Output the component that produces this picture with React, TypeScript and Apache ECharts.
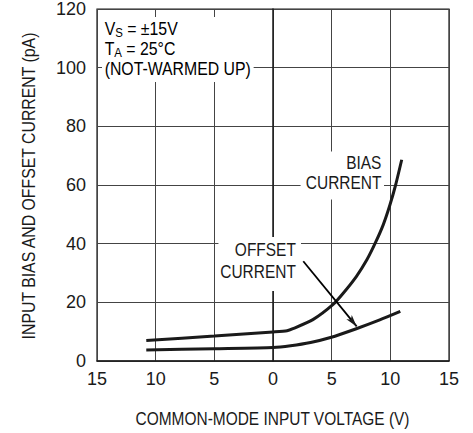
import React, { useEffect, useRef } from "react";
import * as echarts from "echarts";

const xTicks = [-15, -10, -5, 0, 5, 10, 15];
const yTicks = [0, 20, 40, 60, 80, 100, 120];

const biasX = [-10.8, -5, 0, 1.2, 1.7, 3.4, 5.1, 6.0, 7.1, 8.0, 8.75, 9.4, 9.95, 10.45, 10.97];
const biasY = [7.0, 8.5, 9.9, 10.3, 11.0, 14.1, 19.2, 23.2, 28.8, 34.5, 40.5, 46.5, 53.0, 60.0, 68.6];

const offsetX = [-10.8, -5, 0, 1.5, 3.2, 4.9, 7.1, 9.1, 10.85];
const offsetY = [3.75, 4.2, 4.6, 5.2, 6.3, 8.0, 11.0, 14.0, 16.9];

const arrowX = [2.58, 7.13];
const arrowY = [34.0, 11.8];

const xTitle = "COMMON-MODE INPUT VOLTAGE (V)";
const yTitle = "INPUT BIAS AND OFFSET CURRENT (pA)";

const FONT = '"Liberation Sans", Arial, sans-serif';
const INK = "#1a1a1a";
const SX = 0.86;

export default function App() {
  const ref = useRef<HTMLDivElement>(null);
  useEffect(() => {
    document.body.style.margin = "0";
    const chart = echarts.init(ref.current!, undefined, { renderer: "svg" });
    const zip = (xs: number[], ys: number[]) => xs.map((x, i) => [x, ys[i]]);
    const axisCommon = {
      type: "value" as const,
      axisLine: { show: true, lineStyle: { color: INK, width: 1.5 } },
      axisTick: { show: false },
      splitLine: { show: true, lineStyle: { color: "#444", width: 1 } },
    };
    const base = { fontFamily: FONT, fontSize: 18, fill: INK };
    chart.setOption({
      animation: false,
      backgroundColor: "#fff",
      grid: { left: 97, right: 24, top: 9, bottom: 72, show: true, borderColor: INK, borderWidth: 1.2 },
      xAxis: {
        ...axisCommon,
        min: xTicks[0],
        max: xTicks[xTicks.length - 1],
        interval: 5,
        axisLabel: {
          fontFamily: FONT, fontSize: 18, color: INK, margin: 9,
          formatter: (v: number) => String(Math.abs(v)),
        },
      },
      yAxis: {
        ...axisCommon,
        min: yTicks[0],
        max: yTicks[yTicks.length - 1],
        interval: 20,
        axisLabel: { fontFamily: FONT, fontSize: 18, color: INK, margin: 11 },
      },
      series: [
        {
          type: "line",
          name: "Bias",
          z: 3,
          data: zip(biasX, biasY),
          showSymbol: false,
          smooth: 0.2,
          lineStyle: { color: INK, width: 3 },
        },
        {
          type: "line",
          name: "Offset",
          z: 3,
          data: zip(offsetX, offsetY),
          showSymbol: false,
          smooth: 0.2,
          lineStyle: { color: INK, width: 3 },
        },
        {
          type: "line",
          name: "ArrowShaft",
          z: 4,
          silent: true,
          data: zip(arrowX, arrowY),
          showSymbol: false,
          lineStyle: { color: "#000", width: 1.8 },
        },
        {
          type: "custom",
          name: "ArrowHead",
          z: 5,
          silent: true,
          clip: false,
          data: [[arrowX[0], arrowY[0], arrowX[1], arrowY[1]]],
          encode: { x: [0, 2], y: [1, 3] },
          renderItem: (_params: any, api: any) => {
            const p1 = api.coord([api.value(0), api.value(1)]);
            const p2 = api.coord([api.value(2), api.value(3)]);
            const dx = p2[0] - p1[0];
            const dy = p2[1] - p1[1];
            const len = Math.sqrt(dx * dx + dy * dy);
            const ux = dx / len;
            const uy = dy / len;
            const hl = 12;
            const hw = 3.5;
            const bx = p2[0] - ux * hl;
            const by = p2[1] - uy * hl;
            const nx = -uy;
            const ny = ux;
            return {
              type: "polygon",
              shape: {
                points: [
                  [p2[0], p2[1]],
                  [bx + nx * hw, by + ny * hw],
                  [bx + ux * 3, by + uy * 3],
                  [bx - nx * hw, by - ny * hw],
                ],
              },
              style: { fill: INK },
            };
          },
        },
      ],
      graphic: [
        {
          type: "text",
          z: 1,
          x: 102,
          y: 17,
          scaleX: 0.88,
          style: {
            text: "{a|V}{s|S}{a| = ±15V}\n{a|T}{s|A}{a| = 25°C}\n{a|(NOT-WARMED UP)}",
            verticalAlign: "top",
            backgroundColor: "#fff",
            padding: [2, 3, 3, 3],
            rich: {
              a: { fontFamily: FONT, fontSize: 18, color: INK, lineHeight: 20 },
              s: { fontFamily: FONT, fontSize: 13, color: INK, lineHeight: 12, verticalAlign: "bottom" },
            },
          },
        },
        {
          type: "text",
          z: 1,
          x: 384,
          y: 151.5,
          scaleX: SX,
          style: {
            ...base,
            text: "BIAS\nCURRENT",
            align: "right",
            verticalAlign: "top",
            lineHeight: 20,
            backgroundColor: "#fff",
            padding: [2, 3, 6, 6],
          },
        },
        {
          type: "text",
          z: 1,
          x: 301,
          y: 237,
          scaleX: SX,
          style: {
            ...base,
            text: "OFFSET\nCURRENT",
            align: "right",
            verticalAlign: "top",
            lineHeight: 22,
            backgroundColor: "#fff",
            padding: [2, 6, 8, 2],
          },
        },
        {
          type: "text",
          x: 272.5,
          y: 419,
          scaleX: SX,
          style: { ...base, text: xTitle, align: "center", verticalAlign: "middle" },
        },
        {
          type: "text",
          x: 29,
          y: 186,
          rotation: Math.PI / 2,
          scaleX: 0.88,
          style: { ...base, text: yTitle, align: "center", verticalAlign: "middle" },
        },
      ],
    });
    return () => chart.dispose();
  }, []);
  return <div ref={ref} style={{ width: 473, height: 433 }} />;
}
